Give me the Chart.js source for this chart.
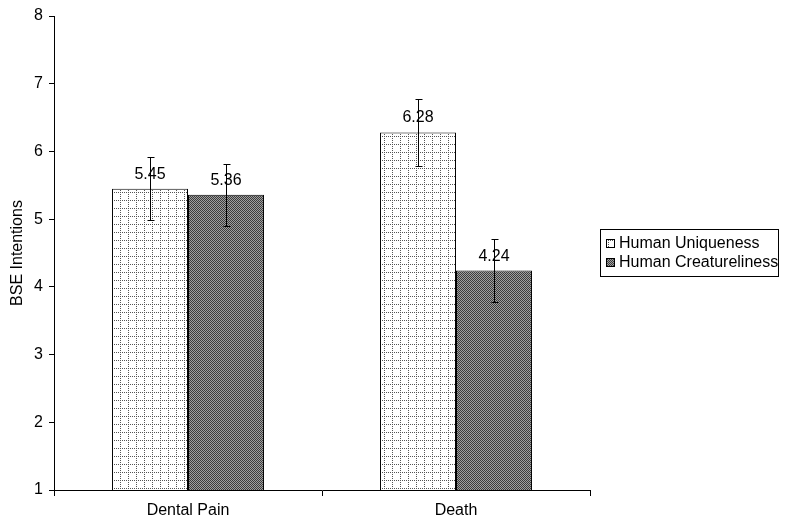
<!DOCTYPE html>
<html>
<head>
<meta charset="utf-8">
<script src="https://cdn.jsdelivr.net/npm/chart.js@4"></script>
<style>
  html, body { margin: 0; padding: 0; background: #fff; }
  #wrap { width: 800px; height: 532px; }
</style>
</head>
<body>
<div id="wrap"><canvas id="chart" width="800" height="532"></canvas></div>
<script>
const categories = ['Dental Pain', 'Death'];
const seriesNames = ['Human Uniqueness', 'Human Creatureliness'];
const uniqueness = [5.45, 6.28];
const creatureliness = [5.36, 4.24];
const uniquenessErr = [0.47, 0.49];
const creaturelinessErr = [0.46, 0.46];
const yTicks = [1, 2, 3, 4, 5, 6, 7, 8];

const FONT = '"Liberation Sans", Arial, sans-serif';

function gridPattern() {
    const c = document.createElement('canvas');
    c.width = 8; c.height = 8;
    const g = c.getContext('2d');
    g.fillStyle = '#fff';
    g.fillRect(0, 0, 8, 8);
    g.fillStyle = '#555';
    for (let i = 0; i < 8; i += 2) {
        g.fillRect(i, 0, 1, 1);
        g.fillRect(0, i, 1, 1);
    }
    return g.createPattern(c, 'repeat');
}

function ditherPattern() {
    const c = document.createElement('canvas');
    c.width = 2; c.height = 2;
    const g = c.getContext('2d');
    g.fillStyle = '#a0a0a0';
    g.fillRect(0, 0, 2, 2);
    g.fillStyle = '#3c3c3c';
    g.fillRect(0, 0, 1, 1);
    g.fillRect(1, 1, 1, 1);
    return g.createPattern(c, 'repeat');
}

const ctx = document.getElementById('chart').getContext('2d');
const fills = [gridPattern(), ditherPattern()];
const errors = [uniquenessErr, creaturelinessErr];

// error bars + value labels
const barExtras = {
    id: 'barExtras',
    afterDatasetsDraw(chart) {
        const c = chart.ctx;
        const y = chart.scales.y;
        c.save();
        chart.data.datasets.forEach((ds, di) => {
            chart.getDatasetMeta(di).data.forEach((bar, i) => {
                const v = ds.data[i];
                const e = errors[di][i];
                const yt = Math.round(y.getPixelForValue(v + e)) + 0.5;
                const yb = Math.round(y.getPixelForValue(v - e)) + 0.5;
                const x = Math.round(bar.x) + 0.5;
                c.fillStyle = '#000';
                c.font = '16px ' + FONT;
                c.textAlign = 'center';
                c.textBaseline = 'alphabetic';
                c.fillText(v.toFixed(2), bar.x, bar.y - 10);
                c.strokeStyle = '#000';
                c.lineWidth = 1;
                c.beginPath();
                c.moveTo(x, yt); c.lineTo(x, yb);
                c.moveTo(x - 3, yt); c.lineTo(x + 4, yt);
                c.moveTo(x - 3, yb); c.lineTo(x + 4, yb);
                c.stroke();
            });
        });
        c.restore();
    }
};

// legend box on the right
const sideLegend = {
    id: 'sideLegend',
    afterDraw(chart) {
        const c = chart.ctx;
        c.save();
        c.fillStyle = '#fff';
        c.fillRect(600, 229, 178, 47);
        c.strokeStyle = '#000';
        c.lineWidth = 1;
        c.strokeRect(600.5, 229.5, 178, 47);
        seriesNames.forEach((name, i) => {
            const cy = 244 + i * 19;
            c.fillStyle = fills[i];
            c.fillRect(606, cy - 5, 9, 9);
            c.strokeStyle = '#000';
            c.strokeRect(606.5, cy - 4.5, 8, 8);
            c.fillStyle = '#000';
            c.font = '16px ' + FONT;
            c.textAlign = 'left';
            c.textBaseline = 'middle';
            c.fillText(name, 619, cy);
        });
        c.restore();
    }
};

new Chart(ctx, {
    type: 'bar',
    data: {
        labels: categories,
        datasets: [
            {
                label: seriesNames[0],
                data: uniqueness,
                backgroundColor: fills[0],
                borderColor: '#000',
                borderWidth: 1,
                borderSkipped: 'bottom'
            },
            {
                label: seriesNames[1],
                data: creatureliness,
                backgroundColor: fills[1],
                borderColor: '#000',
                borderWidth: 1,
                borderSkipped: 'bottom'
            }
        ]
    },
    options: {
        responsive: false,
        animation: false,
        events: [],
        layout: { padding: { top: 16, right: 210, left: 0, bottom: 0 } },
        categoryPercentage: 0.567,
        barPercentage: 1,
        plugins: {
            legend: { display: false },
            tooltip: { enabled: false }
        },
        scales: {
            x: {
                offset: true,
                grid: { offset: true, drawOnChartArea: false, tickLength: 6, color: '#000' },
                border: { color: '#000' },
                ticks: { color: '#000', font: { family: FONT, size: 16 }, padding: 5 },
                afterFit(s) { s.height = 42; }
            },
            y: {
                min: 1,
                max: 8,
                afterBuildTicks(s) { s.ticks = yTicks.map(v => ({ value: v })); },
                grid: { drawOnChartArea: false, tickLength: 5, color: '#000' },
                border: { color: '#000' },
                ticks: { color: '#000', font: { family: FONT, size: 16 }, padding: 6 },
                title: {
                    display: true,
                    text: 'BSE Intentions',
                    color: '#000',
                    font: { family: FONT, size: 16 },
                    padding: { top: 8, bottom: 0 }
                },
                afterFit(s) { s.width = 54; }
            }
        }
    },
    plugins: [barExtras, sideLegend]
});
</script>
</body>
</html>
